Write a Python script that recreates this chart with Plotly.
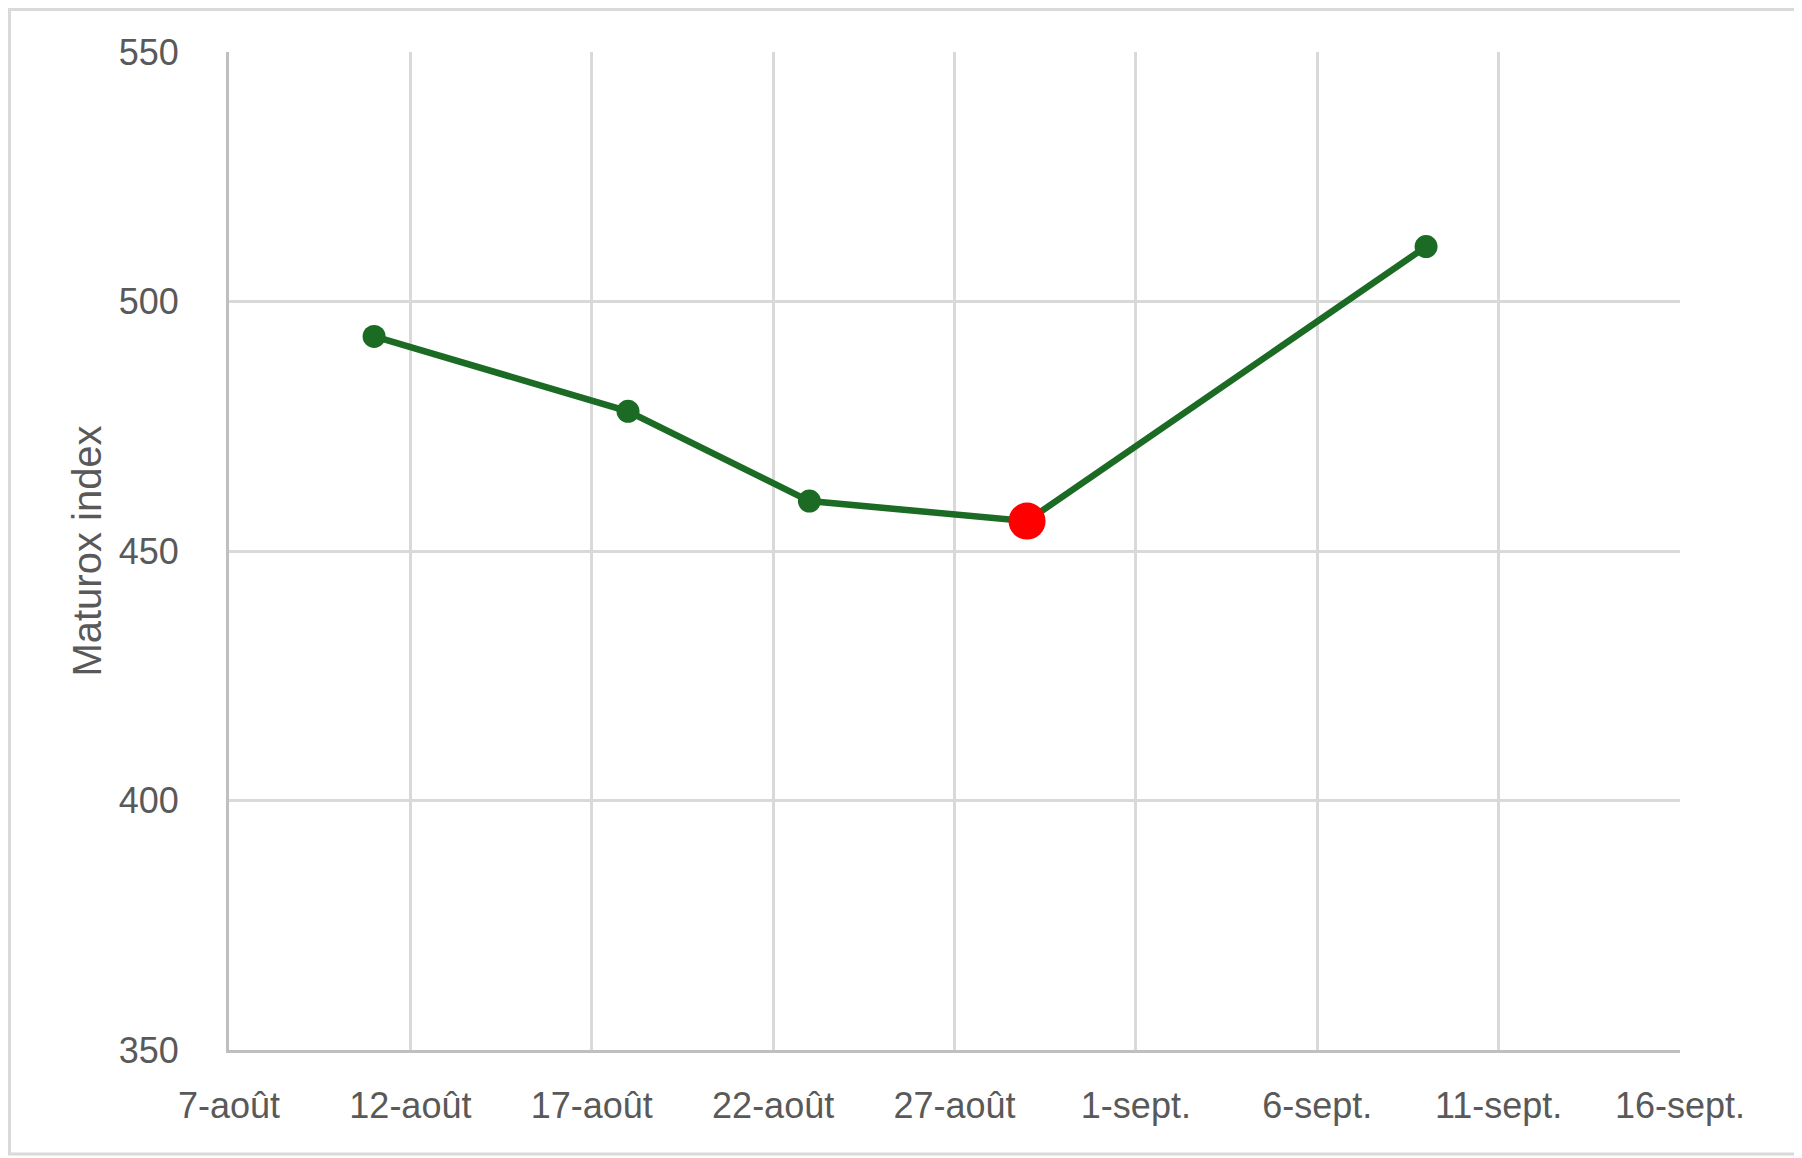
import plotly.graph_objects as go

# data
dates = ["2024-08-11", "2024-08-18", "2024-08-23", "2024-08-29", "2024-09-09"]
maturox = [493, 478, 460, 456, 511]
highlight = 3  # point shown in red

tick_dates = ["2024-08-07", "2024-08-12", "2024-08-17", "2024-08-22", "2024-08-27",
              "2024-09-01", "2024-09-06", "2024-09-11", "2024-09-16"]
tick_labels = ["7-août", "12-août", "17-août", "22-août", "27-août",
               "1-sept.", "6-sept.", "11-sept.", "16-sept."]

# the page body has an 8px margin, so the figure is a bit smaller than the window
PAD = 8
W, H = 1802 - PAD, 1158 - PAD
L, R, T, B = 229 - PAD, 122, 52 - PAD, 108
pw = W - L - R
ph = H - T - B

green = "#1b6b24"
grid = "#d9d9d9"
axis = "#bfbfbf"
txt = "#595959"

fig = go.Figure()
fig.add_trace(go.Scatter(
    x=dates, y=maturox, mode="lines+markers",
    line=dict(color=green, width=6.5),
    marker=dict(color=green, size=23),
    showlegend=False, hoverinfo="x+y"
))
fig.add_trace(go.Scatter(
    x=[dates[highlight]], y=[maturox[highlight]], mode="markers",
    marker=dict(color="#ff0000", size=37),
    showlegend=False
))

# outer chart border
fig.add_shape(type="rect", xref="paper", yref="paper",
              x0=(1.5 - L) / pw, x1=(W - 4 - L) / pw,
              y0=-(B - 4) / ph, y1=(ph + T - 1.5) / ph,
              line=dict(color=grid, width=3), fillcolor="rgba(0,0,0,0)", layer="below")

fig.update_layout(
    width=W, height=H,
    margin=dict(l=L, r=R, t=T, b=B),
    paper_bgcolor="white", plot_bgcolor="white",
    font=dict(family="Liberation Sans, Arial, sans-serif", color=txt, size=36),
    xaxis=dict(
        type="date", range=[tick_dates[0], tick_dates[-1]],
        tickmode="array", tickvals=tick_dates, ticktext=tick_labels,
        showgrid=True, gridcolor=grid, gridwidth=3,
        showline=True, linecolor=axis, linewidth=3,
        ticks="", ticklabelstandoff=22, zeroline=False,
        tickfont=dict(size=36, color=txt),
    ),
    yaxis=dict(
        range=[350, 550], tickmode="linear", tick0=350, dtick=50,
        showgrid=True, gridcolor=grid, gridwidth=3,
        showline=True, linecolor=axis, linewidth=3,
        ticks="", ticklabelstandoff=40, zeroline=False,
        tickfont=dict(size=36, color=txt),
        title=dict(text="Maturox index", font=dict(size=40, color=txt), standoff=5),
    ),
)

fig.write_html("out.html")
